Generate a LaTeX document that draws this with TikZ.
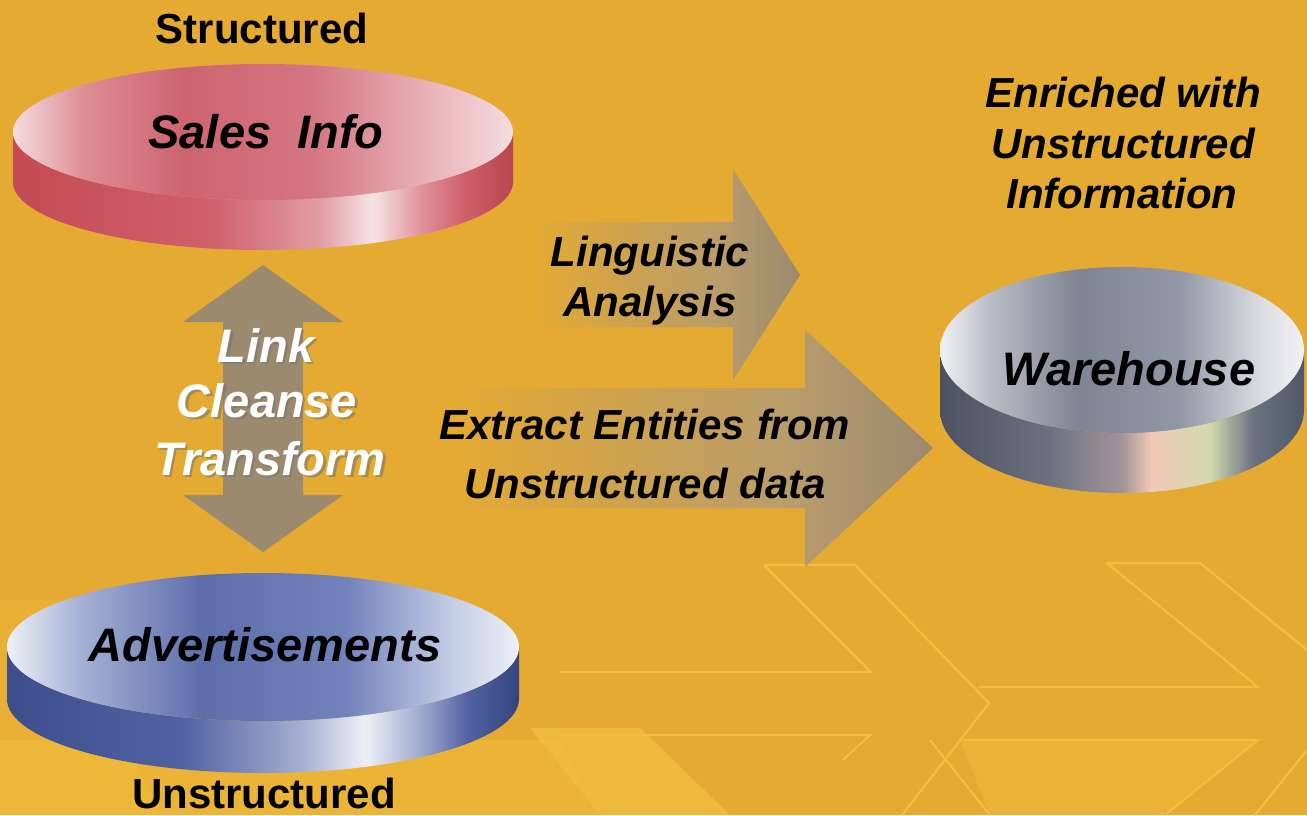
\documentclass[tikz,border=0pt]{standalone}
\usepackage{fontspec}
\setmainfont{Liberation Sans}
\definecolor{bg}{HTML}{E4AA32}
\definecolor{bglight}{HTML}{F3BE3C}
\definecolor{bgpale}{HTML}{F8C846}
\definecolor{taupe}{HTML}{9B8A6E}
\definecolor{taupeL}{HTML}{B89C6C}
% red disc
\definecolor{rA}{HTML}{C44A55}
\definecolor{rB}{HTML}{D0606B}
\definecolor{rC}{HTML}{F6E4E6}
\definecolor{rD}{HTML}{B94650}
\definecolor{rT0}{HTML}{F4DCDF}
\definecolor{rT1}{HTML}{DE8E96}
\definecolor{rT2}{HTML}{CD646F}
\definecolor{rT3}{HTML}{D47682}
\definecolor{rT4}{HTML}{E9B0B6}
% blue disc
\definecolor{bA}{HTML}{3C4E8C}
\definecolor{bB}{HTML}{5062A2}
\definecolor{bC}{HTML}{EEF0F8}
\definecolor{bD}{HTML}{34457E}
\definecolor{bT0}{HTML}{EEF0F7}
\definecolor{bT1}{HTML}{A6B2D6}
\definecolor{bT2}{HTML}{5E6EAA}
\definecolor{bT3}{HTML}{7282BA}
\definecolor{bT4}{HTML}{C0CAE4}
% grey disc
\definecolor{gA}{HTML}{4C5262}
\definecolor{gB}{HTML}{6C7282}
\definecolor{gC}{HTML}{F2C8B8}
\definecolor{gE}{HTML}{D4DAB0}
\definecolor{gD}{HTML}{505868}
\definecolor{gT0}{HTML}{F2F2F4}
\definecolor{gT1}{HTML}{B8BCC4}
\definecolor{gT2}{HTML}{7E8492}
\definecolor{gT3}{HTML}{9298A6}
\definecolor{gT4}{HTML}{DADCE0}
\pgfdeclarehorizontalshading{redside}{100bp}{color(0bp)=(rA); color(25bp)=(rA); color(45bp)=(rB); color(56bp)=(rB!60!white); color(61bp)=(rC); color(66bp)=(rB!70!white); color(70bp)=(rB); color(75bp)=(rD); color(100bp)=(rD)}
\pgfdeclarehorizontalshading{redtop}{100bp}{color(0bp)=(rT0); color(25bp)=(rT0); color(32bp)=(rT1); color(42bp)=(rT2); color(55bp)=(rT3); color(66bp)=(rT4); color(75bp)=(rT0); color(100bp)=(rT0)}
\pgfdeclarehorizontalshading{blueside}{100bp}{color(0bp)=(bA); color(25bp)=(bA); color(42bp)=(bB); color(54bp)=(bB!50!white); color(60bp)=(bC); color(66bp)=(bB!60!white); color(70bp)=(bB); color(75bp)=(bD); color(100bp)=(bD)}
\pgfdeclarehorizontalshading{bluetop}{100bp}{color(0bp)=(bT0); color(25bp)=(bT0); color(32bp)=(bT1); color(44bp)=(bT2); color(58bp)=(bT3); color(68bp)=(bT4); color(75bp)=(bT0); color(100bp)=(bT0)}
\pgfdeclarehorizontalshading{greyside}{100bp}{color(0bp)=(gA); color(25bp)=(gA); color(40bp)=(gB); color(50bp)=(gB!60!gC); color(54bp)=(gC); color(62bp)=(gE); color(68bp)=(gB); color(75bp)=(gD); color(100bp)=(gD)}
\pgfdeclarehorizontalshading{greytop}{100bp}{color(0bp)=(gT0); color(25bp)=(gT0); color(32bp)=(gT1); color(44bp)=(gT2); color(58bp)=(gT3); color(69bp)=(gT4); color(75bp)=(gT0); color(100bp)=(gT0)}
\pgfdeclarehorizontalshading{arrowsh}{100bp}{color(0bp)=(bg); color(30bp)=(bg); color(62bp)=(taupeL); color(75bp)=(taupe); color(100bp)=(taupe)}
\newcommand\mydisc[7]{%
  \shade[shading=#6] (#1-#3,#2) -- (#1-#3,#2+#5)
     arc[start angle=180,end angle=0,x radius=#3,y radius=#4]
     -- (#1+#3,#2)
     arc[start angle=0,end angle=180,x radius=#3,y radius=#4] -- cycle;
  \shade[shading=#7] (#1,#2) ellipse[x radius=#3, y radius=#4];
}
\begin{document}
\begin{tikzpicture}[x=1pt,y=-1pt,
  lbl/.style={font=\fontsize{42}{48}\selectfont\bfseries, anchor=base, inner sep=0pt},
  ilbl/.style={font=\fontsize{42}{48}\selectfont\bfseries\itshape, anchor=base, inner sep=0pt},
  dlbl/.style={font=\fontsize{47}{54}\selectfont\bfseries\itshape, anchor=base, inner sep=0pt},
  deco/.style={draw=bglight, line width=2.2pt, line join=miter},
  blockarrow/.style={shade, shading=arrowsh}]
\useasboundingbox (0,0) rectangle (1307,815);
\fill[bg] (0,0) rectangle (1307,815);
% background decoration
\fill[bgpale, opacity=.55] (530,728) -- (640,728) -- (730,815) -- (600,815) -- cycle;
\fill[bglight, opacity=.5] (0,740) -- (560,740) -- (600,815) -- (0,815) -- cycle;
\fill[bglight, opacity=.35] (0,600) -- (60,600) -- (160,815) -- (0,815) -- cycle;
\fill[bglight, opacity=.4] (960,740) -- (1258,740) -- (1165,815) -- (990,815) -- cycle;
\draw[deco] (764,565) -- (855,565) -- (989,703) -- (902,815);
\draw[deco] (764,565) -- (871,672) -- (560,672);
\draw[deco] (560,735) -- (870,735) -- (843,760);
\draw[deco] (1107,563) -- (1200,563) -- (1307,650);
\draw[deco] (1107,563) -- (1258,687) -- (979,687);
\draw[deco] (964,740) -- (1258,740) -- (1165,815);
\draw[deco] (930,740) -- (990,815);
\draw[deco] (1307,750) -- (1255,815);
% discs
\coordinate (salesC) at (263,132);
\coordinate (advC) at (263,647);
\coordinate (wareC) at (1122,350);
\mydisc{263}{132}{250}{68}{50}{redside}{redtop}
\mydisc{263}{647}{256}{74}{52}{blueside}{bluetop}
\mydisc{1122}{350}{182}{83}{60}{greyside}{greytop}
% double arrow
\fill[taupe] (263,265) -- (343,322) -- (303,322) -- (303,495) -- (343,495)
  -- (263,552) -- (183,495) -- (223,495) -- (223,322) -- (183,322) -- cycle;
% right arrows
\path[blockarrow] (500,222) -- (733,222) -- (733,169) -- (800,275) -- (733,380)
  -- (733,327) -- (500,327) -- cycle;
\path[blockarrow] (400,388) -- (805,388) -- (805,330) -- (933,448) -- (805,567)
  -- (805,508) -- (400,508) -- cycle;
% labels
\node[lbl] (structured) at (262,43) {Structured};
\node[lbl] (unstructured) at (264,808) {Unstructured};
\node[dlbl] (sales) at (266,148) {Sales\ \ Info};
\node[dlbl] (adv) at (265,661) {Advertisements};
\node[dlbl] (ware) at (1129,385) {Warehouse};
\node[ilbl] (ling1) at (650,266) {Linguistic};
\node[ilbl] (ling2) at (650,316) {Analysis};
\node[ilbl] (ext1) at (645,439) {Extract Entities from};
\node[ilbl] (ext2) at (645,498) {Unstructured data};
\node[ilbl] (enr1) at (1123,107) {Enriched with};
\node[ilbl] (enr2) at (1123,158) {Unstructured};
\node[ilbl] (enr3) at (1122,208) {Information};
% shadowed white labels
\foreach \t/\xx/\yy/\nm in {Link/266/362/link, Cleanse/267/417/cleanse, Transform/270/475/transform}{
  \node[dlbl, text=black!55, opacity=.55] (\nm s) at (\xx+2.5,\yy+2.5) {\t};
  \node[dlbl, text=white] (\nm) at (\xx,\yy) {\t};
}
\end{tikzpicture}
\end{document}
